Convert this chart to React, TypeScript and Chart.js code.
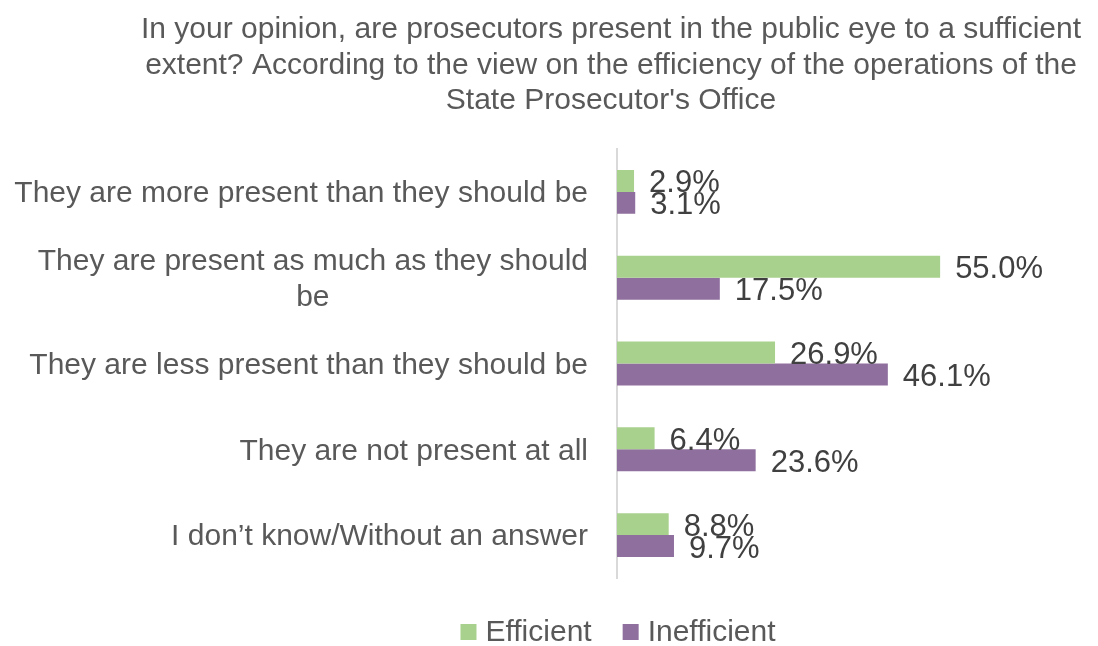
import React, { useEffect, useRef } from "react";
import { Chart, registerables } from "chart.js";

Chart.register(...registerables);

const titleLines = [
  "In your opinion, are prosecutors present in the public eye to a sufficient",
  "extent? According to the view on the efficiency of the operations of the",
  "State Prosecutor's Office",
];

const categories: string[][] = [
  ["They are more present than they should be"],
  ["They are present as much as they should", "be"],
  ["They are less present than they should be"],
  ["They are not present at all"],
  ["I don\u2019t know/Without an answer"],
];

const seriesNames = ["Efficient", "Inefficient"];
const efficient = [2.9, 55.0, 26.9, 6.4, 8.8];
const inefficient = [3.1, 17.5, 46.1, 23.6, 9.7];
const seriesColors = ["#A9D18E", "#8F6F9E"];

const FONT = "'Liberation Sans', Arial, sans-serif";

const titlePlugin = {
  id: "customTitle",
  afterDraw(chart: any) {
    const ctx = chart.ctx;
    ctx.save();
    ctx.font = `30px ${FONT}`;
    ctx.fillStyle = "#595959";
    ctx.textAlign = "center";
    ctx.textBaseline = "middle";
    const ys = [30, 66, 101];
    titleLines.forEach((l, i) => ctx.fillText(l, 611, ys[i]));
    ctx.restore();
  },
};

const yLabelPlugin = {
  id: "yLabels",
  afterDraw(chart: any) {
    const ctx = chart.ctx;
    const y = chart.scales.y;
    ctx.save();
    ctx.font = `30px ${FONT}`;
    ctx.fillStyle = "#595959";
    ctx.textAlign = "center";
    ctx.textBaseline = "middle";
    const right = 588;
    const lh = 36;
    categories.forEach((lines, i) => {
      const cy = y.getPixelForValue(i) + 2;
      const widest = Math.max(...lines.map((l) => ctx.measureText(l).width));
      const cx = right - widest / 2;
      lines.forEach((l, j) => {
        ctx.fillText(l, cx, cy + (j - (lines.length - 1) / 2) * lh);
      });
    });
    ctx.restore();
  },
};

const dataLabelPlugin = {
  id: "dataLabels",
  afterDatasetsDraw(chart: any) {
    const ctx = chart.ctx;
    ctx.save();
    ctx.font = `31px ${FONT}`;
    ctx.fillStyle = "#404040";
    ctx.textAlign = "left";
    ctx.textBaseline = "middle";
    chart.data.datasets.forEach((ds: any, di: number) => {
      const meta = chart.getDatasetMeta(di);
      meta.data.forEach((el: any, i: number) => {
        const v = ds.data[i] as number;
        ctx.fillText(v.toFixed(1) + "%", el.x + 15, el.y + 3);
      });
    });
    ctx.restore();
  },
};

const legendPlugin = {
  id: "customLegend",
  afterDraw(chart: any) {
    const ctx = chart.ctx;
    ctx.save();
    ctx.font = `30px ${FONT}`;
    ctx.textBaseline = "middle";
    ctx.textAlign = "left";
    const sq = 16;
    const gap = 9;
    const between = 31;
    const widths = seriesNames.map((n) => ctx.measureText(n).width);
    const total = widths.reduce((a, w) => a + sq + gap + w, 0) + between * (seriesNames.length - 1);
    let x = 618 - total / 2;
    const cy = 633;
    seriesNames.forEach((n, i) => {
      ctx.fillStyle = seriesColors[i];
      ctx.fillRect(x, cy - sq / 2 - 1, sq, sq);
      x += sq + gap;
      ctx.fillStyle = "#595959";
      ctx.fillText(n, x, cy);
      x += widths[i] + between;
    });
    ctx.restore();
  },
};

export default function App() {
  const ref = useRef<HTMLCanvasElement | null>(null);
  useEffect(() => {
    if (!ref.current) return;
    const chart = new Chart(ref.current, {
      type: "bar",
      data: {
        labels: categories.map((c) => c.join(" ")),
        datasets: [
          {
            label: seriesNames[0],
            data: efficient,
            backgroundColor: seriesColors[0],
            categoryPercentage: 0.512,
            barPercentage: 1,
          },
          {
            label: seriesNames[1],
            data: inefficient,
            backgroundColor: seriesColors[1],
            categoryPercentage: 0.512,
            barPercentage: 1,
          },
        ],
      },
      options: {
        indexAxis: "y",
        animation: false,
        responsive: false,
        maintainAspectRatio: false,
        layout: { padding: { top: 149, bottom: 68, left: 0, right: 128.5 } },
        plugins: {
          legend: { display: false },
          title: { display: false },
          tooltip: { enabled: false },
        },
        scales: {
          x: {
            display: false,
            min: 0,
            max: 60,
            grid: { display: false },
          },
          y: {
            display: true,
            grid: { display: false, drawTicks: false },
            ticks: { display: false },
            border: { display: true, color: "#D9D9D9", width: 2 },
            afterFit(scale: any) {
              scale.width = 617;
            },
          },
        },
      },
      plugins: [titlePlugin, yLabelPlugin, dataLabelPlugin, legendPlugin],
    });
    return () => chart.destroy();
  }, []);
  return (
    <div style={{ position: "fixed", left: 0, top: 0, width: 1098, height: 646, background: "#fff" }}>
      <canvas ref={ref} width={1098} height={646} style={{ display: "block" }} />
    </div>
  );
}
